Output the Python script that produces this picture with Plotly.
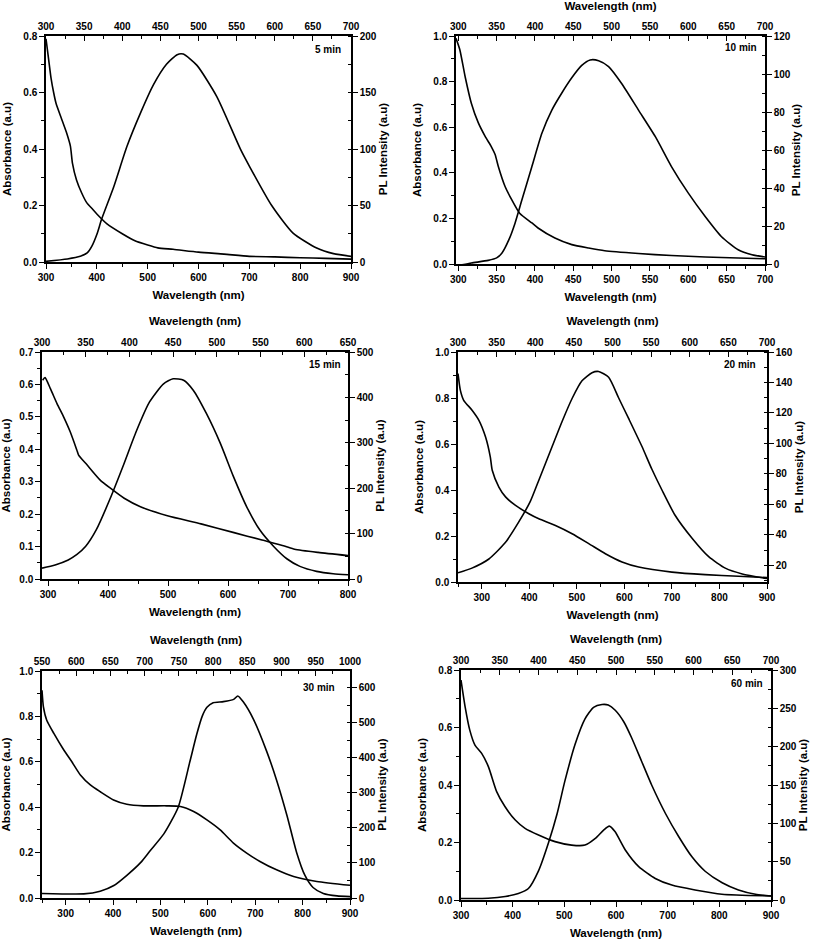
import plotly.graph_objects as go

W, H = 813, 941

# ---------------- data ----------------
# 5 min
abs5_wl = [300, 305, 310, 315, 320, 330, 340, 348, 352, 360, 370, 380, 390, 400, 420, 450, 475, 500, 520, 550, 600, 650, 700, 750, 800, 850, 900]
abs5 = [0.79, 0.72, 0.65, 0.60, 0.56, 0.51, 0.46, 0.41, 0.35, 0.29, 0.245, 0.21, 0.19, 0.17, 0.135, 0.10, 0.075, 0.06, 0.05, 0.045, 0.035, 0.028, 0.02, 0.018, 0.015, 0.013, 0.01]
pl5_wl = [300, 328, 345, 354, 360, 367, 373, 389, 406, 424, 441, 458, 472, 480, 498, 524, 555, 567, 596, 624, 655, 677, 700]
pl5 = [0.6, 2.7, 5, 8, 13.8, 25, 38, 66.9, 102, 132, 157, 175, 183.5, 184, 174, 146.4, 99.9, 84.5, 50, 25.6, 12.4, 7.4, 5]

# 10 min
abs10_wl = [297, 302, 309, 317, 326, 335, 343, 348, 352, 361, 370, 380, 396, 404, 426, 448, 470, 491, 535, 578, 622, 665, 700]
abs10 = [0.99, 0.94, 0.82, 0.705, 0.62, 0.56, 0.515, 0.48, 0.43, 0.34, 0.28, 0.223, 0.18, 0.158, 0.114, 0.085, 0.07, 0.058, 0.046, 0.037, 0.031, 0.026, 0.023]
pl10_wl = [300, 317, 339, 350, 357, 366, 374, 383, 396, 409, 422, 435, 448, 461, 472, 483, 496, 513, 535, 557, 578, 600, 622, 643, 665, 683, 700]
pl10 = [-0.8, 0.5, 1.9, 3.2, 5.8, 12.8, 21.5, 33.8, 51.3, 68.8, 81, 90, 98, 104.5, 107.4, 107, 103.9, 95, 81, 67, 51.3, 37.3, 25, 14.5, 7.5, 4.9, 3.7]

# 15 min
abs15_wl = [291, 295, 304, 315, 326, 337, 348, 351, 365, 387, 404, 427, 454, 499, 555, 610, 655, 694, 711, 750, 800]
abs15 = [0.613, 0.621, 0.587, 0.541, 0.50, 0.454, 0.398, 0.382, 0.352, 0.305, 0.28, 0.249, 0.223, 0.195, 0.17, 0.143, 0.121, 0.102, 0.092, 0.082, 0.072]
pl15_wl = [300, 315, 330, 340, 350, 362, 377.5, 393, 408, 423, 439, 450, 462, 473, 488, 504, 519, 534, 549, 565, 580, 595, 614, 633, 650]
pl15 = [24, 31, 42, 54, 72, 108, 175, 250, 326, 390, 430, 441, 437.8, 415.8, 364.6, 298.7, 225.5, 159.6, 108.3, 71.7, 44.6, 27.8, 16.8, 11.7, 9.5]

# 20 min
abs20_wl = [250, 255, 262, 280, 294, 308, 318, 322, 336, 350, 371, 399, 420, 455, 490, 525, 560, 595, 630, 700, 770, 840, 900]
abs20 = [0.906, 0.833, 0.79, 0.746, 0.703, 0.63, 0.543, 0.486, 0.413, 0.37, 0.333, 0.297, 0.275, 0.246, 0.21, 0.167, 0.123, 0.087, 0.065, 0.043, 0.032, 0.025, 0.019]
pl20_wl = [300, 318, 340, 361, 378.5, 393.6, 404, 422, 435, 448, 460.5, 473.5, 482, 495, 508, 521, 538, 551, 564, 581, 603, 624.5, 646, 668, 700]
pl20 = [15, 18.1, 24.1, 34.7, 48.3, 61.9, 75, 98.1, 114.7, 129.8, 141.1, 146.4, 147.2, 143.4, 129.8, 116.2, 98.1, 83, 69.4, 52.8, 37.7, 25.6, 18.1, 14.3, 11.3]

# 30 min
abs30_wl = [250, 253, 260, 275, 296, 313, 331, 352, 373, 401, 429, 464, 513, 542, 570, 598, 626, 654, 682, 710, 745, 781, 830, 900]
abs30 = [0.915, 0.842, 0.783, 0.725, 0.652, 0.60, 0.542, 0.498, 0.468, 0.432, 0.413, 0.406, 0.406, 0.403, 0.381, 0.344, 0.30, 0.242, 0.198, 0.161, 0.124, 0.095, 0.073, 0.056]
pl30_wl = [550, 611, 635, 655, 674, 694, 708, 728, 749, 766, 776, 784, 791, 800, 815, 830, 836, 844, 859, 878, 893, 908, 922, 934, 946, 961, 981, 1000]
pl30 = [13, 11.7, 19.4, 35.6, 64.8, 101, 135, 183, 259.2, 388.8, 466.6, 518.4, 544.3, 557.3, 560.5, 567, 576.7, 560, 510, 420, 335, 235, 130, 65, 30, 13, 6, 4]

# 60 min
abs60_wl = [300, 308, 317, 327, 340, 353, 369, 385, 405, 424, 450, 482, 514, 540, 560, 576, 587, 598, 618, 644, 676, 708, 753, 805, 900]
abs60 = [0.765, 0.672, 0.591, 0.539, 0.51, 0.464, 0.377, 0.325, 0.278, 0.249, 0.226, 0.203, 0.191, 0.191, 0.214, 0.243, 0.257, 0.238, 0.174, 0.116, 0.075, 0.052, 0.035, 0.02, 0.014]
pl60_wl = [300, 335, 357, 374, 387, 400, 413, 424, 434, 447, 460, 471, 482, 490, 499, 510, 520, 533, 546, 564, 581, 598, 615, 637, 658, 680, 700]
pl60 = [1.9, 2.3, 4.5, 8.5, 15, 38, 75, 112.5, 155, 202.5, 236.3, 251.3, 255, 254.3, 247.5, 232.5, 212, 181, 150, 112.5, 82.5, 56.3, 37.5, 22.5, 13.1, 7.5, 5.3]

labels = ["5 min", "10 min", "15 min", "20 min", "30 min", "60 min"]

# ---------------- layout per panel ----------------
panels = [
    dict(a=(abs5_wl, abs5), p=(pl5_wl, pl5), px=(46, 351), py=(36, 262),
         xb=([300, 900], 100), xt=([300, 700], 50), yl=([0, 0.8], 0.2), yr=([0, 200], 50),
         top_title=False, lab=(343, 50)),
    dict(a=(abs10_wl, abs10), p=(pl10_wl, pl10), px=(456, 765), py=(36, 264),
         xb=([297, 700], 50), xt=([297, 700], 50), yl=([0, 1.0], 0.2), yr=([0, 120], 20),
         top_title=True, lab=(759, 48)),
    dict(a=(abs15_wl, abs15), p=(pl15_wl, pl15), px=(42, 348), py=(352, 579),
         xb=([290, 800], 100), xt=([300, 650], 50), yl=([0, 0.7], 0.1), yr=([0, 500], 100),
         top_title=True, lab=(343, 365)),
    dict(a=(abs20_wl, abs20), p=(pl20_wl, pl20), px=(458, 767), py=(352, 582),
         xb=([250, 900], 100), xt=([300, 700], 50), yl=([0, 1.0], 0.2), yr=([9, 160], 20),
         top_title=True, lab=(758, 365)),
    dict(a=(abs30_wl, abs30), p=(pl30_wl, pl30), px=(42, 350), py=(671, 898),
         xb=([250, 900], 100), xt=([550, 1000], 50), yl=([0, 1.0], 0.2), yr=([0, 648], 100),
         top_title=True, lab=(337, 687)),
    dict(a=(abs60_wl, abs60), p=(pl60_wl, pl60), px=(461, 771), py=(670, 900),
         xb=([300, 900], 100), xt=([300, 700], 50), yl=([0, 0.8], 0.2), yr=([0, 300], 50),
         top_title=True, lab=(765, 683)),
]

FONT = "Arial, Liberation Sans, sans-serif"
tickfont = dict(family=FONT, size=10, color="black", weight="bold")
titlefont = dict(family=FONT, size=11.5, color="black", weight="bold")
LINE = dict(color="black", width=1.6)

fig = go.Figure()
layout = {}


def ax_key(kind, n):
    return f"{kind}axis" if n == 1 else f"{kind}axis{n}"


def ref(kind, n):
    return kind if n == 1 else f"{kind}{n}"


annotations = []
for i, pnl in enumerate(panels):
    nb, nt = 2 * i + 1, 2 * i + 2
    xdom = [pnl["px"][0] / W, pnl["px"][1] / W]
    ydom = [1 - pnl["py"][1] / H, 1 - pnl["py"][0] / H]

    base = dict(showline=True, linecolor="black", linewidth=1.5, showgrid=False,
                zeroline=False, tickfont=tickfont, tickcolor="black", tickwidth=1.3,
                ticklen=5, automargin=False)

    rng, dt = pnl["xb"]
    layout[ax_key("x", nb)] = dict(base, domain=xdom, anchor=ref("y", nb), side="bottom",
                                   range=rng, dtick=dt, tick0=0, ticks="outside",
                                   minor=dict(dtick=dt / 2, ticks="outside", ticklen=3,
                                              tickcolor="black", tickwidth=1.2),
                                   title=dict(text="Wavelength (nm)", font=titlefont, standoff=9))
    rng, dt = pnl["xt"]
    layout[ax_key("x", nt)] = dict(base, overlaying=ref("x", nb), anchor=ref("y", nb), side="top",
                                   range=rng, dtick=dt, tick0=0, ticks="inside",
                                   minor=dict(dtick=dt / 2, ticks="inside", ticklen=3,
                                              tickcolor="black", tickwidth=1.2),
                                   title=dict(text="Wavelength (nm)" if pnl["top_title"] else "",
                                              font=titlefont, standoff=9))
    rng, dt = pnl["yl"]
    layout[ax_key("y", nb)] = dict(base, domain=ydom, anchor=ref("x", nb), side="left",
                                   range=rng, dtick=dt, tick0=0, tickformat=".1f", ticks="outside",
                                   minor=dict(dtick=dt / 2, ticks="outside", ticklen=3,
                                              tickcolor="black", tickwidth=1.2),
                                   title=dict(text="Absorbance (a.u)", font=titlefont, standoff=9))
    rng, dt = pnl["yr"]
    layout[ax_key("y", nt)] = dict(base, overlaying=ref("y", nb), anchor=ref("x", nb), side="right",
                                   range=rng, dtick=dt, tick0=0, ticks="outside",
                                   minor=dict(dtick=dt / 2, ticks="inside", ticklen=3,
                                              tickcolor="black", tickwidth=1.2),
                                   title=dict(text="PL Intensity (a.u)", font=titlefont, standoff=2))

    fig.add_trace(go.Scatter(x=pnl["a"][0], y=pnl["a"][1], mode="lines", name="Absorbance",
                             line=dict(LINE, shape="spline", smoothing=0.6),
                             xaxis=ref("x", nb), yaxis=ref("y", nb), showlegend=False))
    fig.add_trace(go.Scatter(x=pnl["p"][0], y=pnl["p"][1], mode="lines", name="PL",
                             line=dict(LINE, shape="spline", smoothing=0.6),
                             xaxis=ref("x", nt), yaxis=ref("y", nt), showlegend=False))

    annotations.append(dict(text=labels[i], xref="paper", yref="paper",
                            x=pnl["lab"][0] / W, y=1 - pnl["lab"][1] / H,
                            xanchor="right", yanchor="middle", showarrow=False,
                            font=dict(family=FONT, size=10, color="black", weight="bold")))

fig.update_layout(**layout)
fig.update_layout(width=W, height=H, margin=dict(l=0, r=0, t=0, b=0, autoexpand=False),
                  paper_bgcolor="white", plot_bgcolor="white",
                  annotations=annotations, showlegend=False)

# remove the browser's default 8px body margin so the figure fills the window exactly
fig.write_html("out.html", config={"displayModeBar": False},
               post_script="document.body.style.margin='0px';")
